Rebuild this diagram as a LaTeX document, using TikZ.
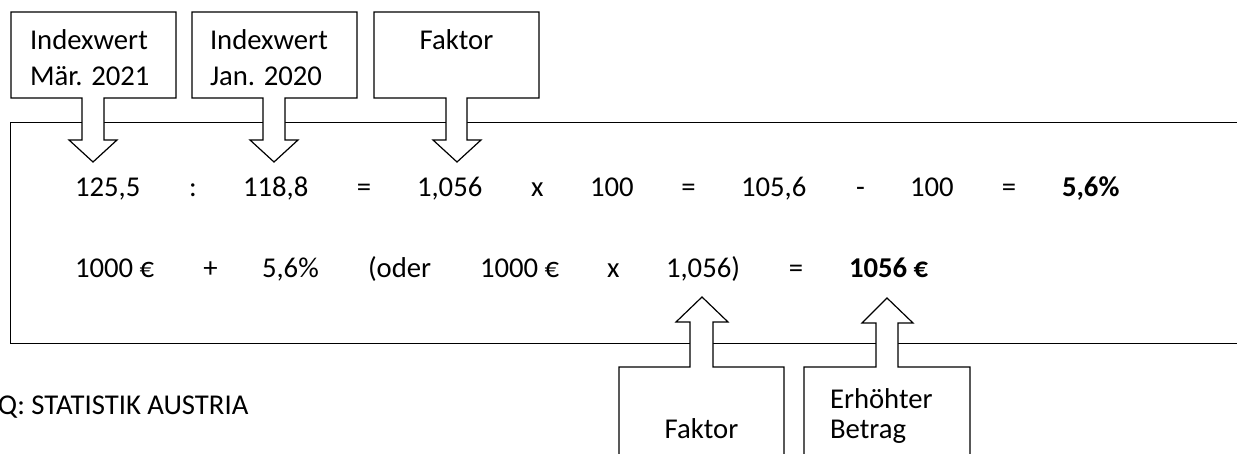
\documentclass[tikz,border=0pt]{standalone}
\usepackage{fontspec}
\setmainfont{Carlito}
\begin{document}
\begin{tikzpicture}[x=1pt,y=-1pt,
  lbl/.style={inner sep=0pt,outer sep=0pt,font=\fontsize{28.7}{34}\selectfont},
  lw/.style={lbl,anchor=base west},
  lc/.style={lbl,anchor=base},
  frame/.style={draw=black,line width=1pt},
  callout/.style={draw=black,fill=white,line width=1.2pt,line join=miter}]
\useasboundingbox (0,0) rectangle (1237,454);
\clip (0,0) rectangle (1237,454);
% main frame
\draw[frame] (1260,123) -- (10,123) -- (10,343) -- (1260,343);
% top callouts (pointing down)
\draw[callout] (11,12) -- (176,12) -- (176,98) -- (104,98) -- (104,140) -- (117,140) -- (93,162) -- (69,140) -- (82,140) -- (82,98) -- (11,98) -- cycle;
\draw[callout] (192,12) -- (357,12) -- (357,98) -- (285,98) -- (285,140) -- (298,140) -- (274,162) -- (250,140) -- (263,140) -- (263,98) -- (192,98) -- cycle;
\draw[callout] (374,12) -- (539,12) -- (539,98) -- (467,98) -- (467,140) -- (481,140) -- (457,162) -- (433,140) -- (446,140) -- (446,98) -- (374,98) -- cycle;
% bottom callouts (pointing up)
\draw[callout] (619,480) -- (619,367) -- (690,367) -- (690,322) -- (676,322) -- (702,297) -- (728,322) -- (713,322) -- (713,367) -- (784,367) -- (784,480) -- cycle;
\draw[callout] (804,480) -- (804,367) -- (876,367) -- (876,323) -- (862,323) -- (887,298) -- (913,323) -- (898,323) -- (898,367) -- (970,367) -- (970,480) -- cycle;
% callout texts
\node[lw] (t1a) at (30,50) {Indexwert};
\node[lw] (t1b) at (30,86) {Mär. 2021};
\node[lw] (t2a) at (210,50) {Indexwert};
\node[lw] (t2b) at (210,86) {Jan. 2020};
\node[lc] (t3) at (456.5,50) {Faktor};
\node[lc] (t4) at (701.5,438) {Faktor};
\node[lw] (t5a) at (830,408) {Erhöhter};
\node[lw] (t5b) at (830,438) {Betrag};
% row 1
\node[lw] (r1a) at (75,197) {125,5};
\node[lc] (r1b) at (193,197) {:};
\node[lw] (r1c) at (243,197) {118,8};
\node[lc] (r1d) at (364,197) {=};
\node[lw] (r1e) at (417,197) {1,056};
\node[lw] (r1f) at (531,197) {x};
\node[lw] (r1g) at (590,197) {100};
\node[lc] (r1h) at (688.5,197) {=};
\node[lw] (r1i) at (741,197) {105,6};
\node[lc] (r1j) at (860.5,197) {-};
\node[lw] (r1k) at (910,197) {100};
\node[lc] (r1l) at (1009,197) {=};
\node[lw] (r1m) at (1062,197) {\bfseries 5,6\%};
% row 2
\node[lw] (r2a) at (75,278) {1000 €};
\node[lc] (r2b) at (210.5,278) {+};
\node[lw] (r2c) at (262,278) {5,6\%};
\node[lw] (r2d) at (368,278) {(oder};
\node[lw] (r2e) at (480,278) {1000 €};
\node[lw] (r2f) at (607,278) {x};
\node[lw] (r2g) at (666,278) {1,056)};
\node[lc] (r2h) at (796,278) {=};
\node[lw] (r2i) at (849,278) {\bfseries 1056 €};
% source
\node[lw] (src) at (-2,414) {Q: STATISTIK AUSTRIA};
\end{tikzpicture}
\end{document}
